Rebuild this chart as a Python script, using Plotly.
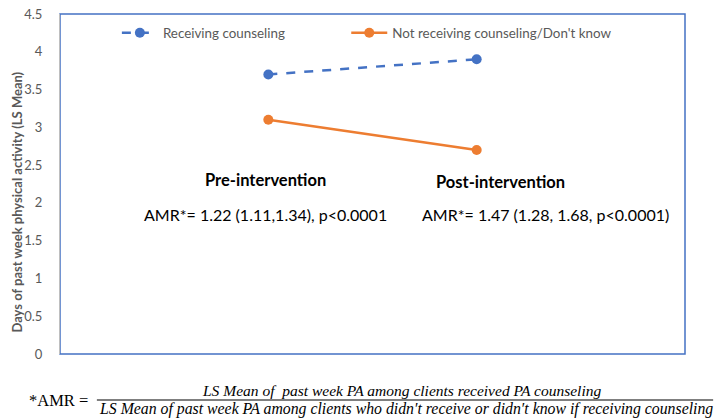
import plotly.graph_objects as go

# values
periods = [1, 2]
period_labels = ['Pre-intervention', 'Post-intervention']
receiving = [3.7, 3.9]
not_receiving = [3.1, 2.7]
amr_text = ['AMR*= 1.22 (1.11,1.34), p<0.0001',
            'AMR*= 1.47 (1.28, 1.68, p<0.0001)']
y_ticks = [0, 0.5, 1, 1.5, 2, 2.5, 3, 3.5, 4, 4.5]

blue = '#4472C4'
orange = '#ED7D31'
grey = '#595959'
font = 'Lato'
serif = 'Liberation Serif'

fig = go.Figure()

fig.add_trace(go.Scatter(x=periods, y=receiving, mode='lines+markers',
                         name='Receiving counseling',
                         line=dict(color=blue, width=2.5, dash='dash'),
                         marker=dict(color=blue, size=10),
                         legend='legend', showlegend=True))
fig.add_trace(go.Scatter(x=periods, y=not_receiving, mode='lines+markers',
                         name="Not receiving counseling/Don't know",
                         line=dict(color=orange, width=2.5),
                         marker=dict(color=orange, size=10),
                         legend='legend2', showlegend=True))

# period labels and AMR values inside the plot
lab_x = [0.984, 2.112]
lab_y = [2.30, 2.28]
amr_x = [0.984, 2.328]
for i in range(2):
    fig.add_annotation(x=lab_x[i], y=lab_y[i], text='<b>' + period_labels[i] + '</b>',
                       showarrow=False, font=dict(family=font, size=16.5, color='black'))
    fig.add_annotation(x=amr_x[i], y=1.84, text=amr_text[i], showarrow=False,
                       font=dict(family=font, size=16, color='black'))

# y axis title (sits a bit below the axis centre, as in the original)
fig.add_annotation(xref='paper', yref='paper', x=-0.068, y=0.447, textangle=-90,
                   xanchor='center', yanchor='middle',
                   text='<b>Days of past week physical activity (LS Mean)</b>',
                   showarrow=False, font=dict(family=font, size=13, color=grey))

# footnote formula below the chart
fig.add_annotation(xref='paper', yref='paper', x=-0.053, y=-0.1353,
                   xanchor='left', yanchor='middle',
                   text='*AMR =', showarrow=False,
                   font=dict(family=serif, size=16.5, color='black'))
fig.add_annotation(xref='paper', yref='paper', x=0.546, y=-0.1088,
                   xanchor='center', yanchor='middle',
                   text='<i>LS Mean of  past week PA among clients received PA counseling</i>',
                   showarrow=False, font=dict(family=serif, size=15.5, color='black'))
fig.add_annotation(xref='paper', yref='paper', x=0.554, y=-0.1618,
                   xanchor='center', yanchor='middle',
                   text="<i>LS Mean of past week PA among clients who didn\u2032t receive or didn\u2032t know if receiving counseling</i>",
                   showarrow=False, font=dict(family=serif, size=15.8, color='black'))
fig.add_shape(type='line', xref='paper', yref='paper', x0=0.059, x1=1.045, y0=-0.1353, y1=-0.1353,
              line=dict(color='black', width=1.2))

# blue plot frame
fig.add_shape(type='rect', xref='paper', yref='paper', x0=0, x1=1, y0=0, y1=1,
              line=dict(color=blue, width=1.5), layer='below')

# page body has an 8px margin, so the figure is sized to end at the window edge
fig.update_layout(
    width=715, height=411,
    margin=dict(l=52, r=38, t=6, b=65, autoexpand=False),
    paper_bgcolor='white', plot_bgcolor='white',
    font=dict(family=font, color=grey),
    showlegend=True,
    legend=dict(x=0.091, y=0.944, xanchor='left', yanchor='middle', itemwidth=36,
                font=dict(family=font, size=13.4, color=grey), bgcolor='rgba(0,0,0,0)'),
    legend2=dict(x=0.458, y=0.944, xanchor='left', yanchor='middle', itemwidth=36,
                 font=dict(family=font, size=13.4, color=grey), bgcolor='rgba(0,0,0,0)'),
)
fig.update_xaxes(range=[0, 3], showticklabels=False, showgrid=False, zeroline=False,
                 showline=False, ticks='')
fig.update_yaxes(range=[0, 4.5], tickvals=y_ticks, ticktext=[f'{v:g}' for v in y_ticks],
                 showgrid=False, zeroline=False, showline=True, linecolor='#BFBFBF',
                 linewidth=1, ticks='', ticklabelstandoff=14, automargin=False,
                 ticklabeloverflow='allow',
                 tickfont=dict(family=font, size=13, color=grey))

fig.write_html('out.html')
